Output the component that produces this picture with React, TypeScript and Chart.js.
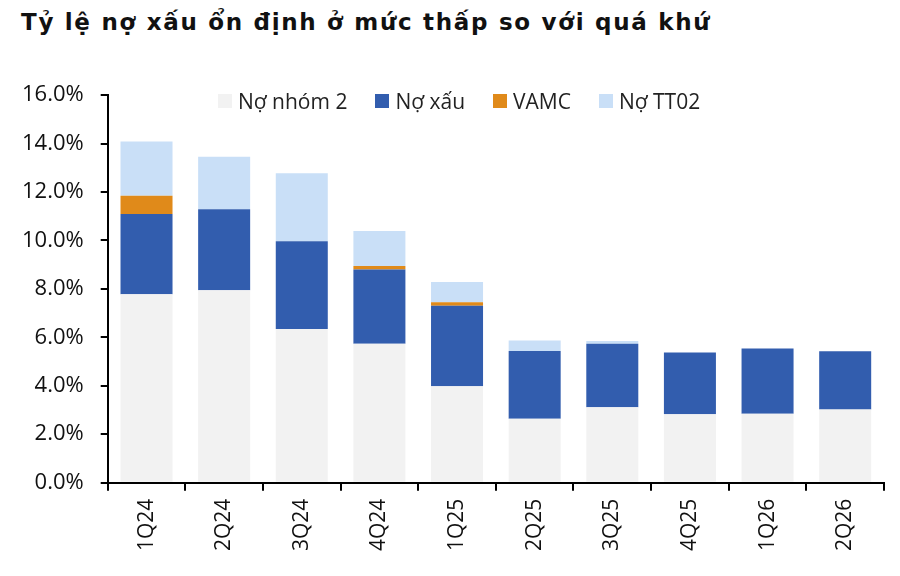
import React, { useEffect, useRef } from "react";
import { Chart, registerables } from "chart.js";

Chart.register(...registerables);

const categories = ["1Q24", "2Q24", "3Q24", "4Q24", "1Q25", "2Q25", "3Q25", "4Q25", "1Q26", "2Q26"];
const noNhom2 = [7.78, 7.95, 6.34, 5.74, 3.98, 2.64, 3.11, 2.82, 2.85, 3.02];
const noXau = [3.31, 3.34, 3.63, 3.06, 3.32, 2.8, 2.63, 2.55, 2.69, 2.41];
const vamc = [0.76, 0, 0, 0.15, 0.15, 0, 0, 0, 0, 0];
const noTT02 = [2.24, 2.17, 2.81, 1.44, 0.84, 0.43, 0.11, 0, 0, 0];
const seriesNames = ["Nợ nhóm 2", "Nợ xấu", "VAMC", "Nợ TT02"];
const seriesColors = ["#f2f2f2", "#325dae", "#e08a1a", "#c9dff7"];
const yTicks = [0, 2, 4, 6, 8, 10, 12, 14, 16];

const FONT = "'Open Sans', 'Noto Sans', sans-serif";

export default function App() {
  const ref = useRef<HTMLCanvasElement | null>(null);

  useEffect(() => {
    document.body.style.margin = "0";
    const ctx = ref.current;
    if (!ctx) return;
    const values = [noNhom2, noXau, vamc, noTT02];
    const chart = new Chart(ctx, {
      type: "bar",
      data: {
        labels: categories,
        datasets: values.map((v, i) => ({
          label: seriesNames[i],
          data: v,
          backgroundColor: seriesColors[i],
          borderWidth: 0,
          barPercentage: 0.67,
          categoryPercentage: 1,
        })),
      },
      options: {
        animation: false,
        responsive: false,
        maintainAspectRatio: false,
        layout: { padding: { left: 5, right: 16, top: 14, bottom: 17 } },
        plugins: { legend: { display: false }, tooltip: { enabled: false } },
        scales: {
          x: {
            stacked: true,
            grid: { display: true, drawOnChartArea: false, offset: true, tickLength: 8, color: "#000", lineWidth: 2 },
            border: { color: "#000", width: 2 },
            ticks: {
              minRotation: 90,
              maxRotation: 90,
              color: "#111",
              padding: 8,
              font: { family: FONT, size: 21 },
            },
          },
          y: {
            stacked: true,
            min: yTicks[0],
            max: yTicks[yTicks.length - 1],
            afterBuildTicks: (axis: any) => {
              axis.ticks = yTicks.map((v) => ({ value: v }));
            },
            grid: { display: true, drawOnChartArea: false, tickLength: 7, color: "#000", lineWidth: 2 },
            border: { color: "#000", width: 2 },
            ticks: {
              color: "#111",
              padding: 17,
              font: { family: FONT, size: 22 },
              callback: (v: any) => Number(v).toFixed(1) + "%",
            },
          },
        },
      },
    });
    return () => chart.destroy();
  }, []);

  return (
    <div style={{ position: "fixed", left: 0, top: 0, width: 900, height: 576, background: "#fff", overflow: "hidden" }}>
      <div
        style={{
          position: "absolute",
          left: 21,
          top: 9,
          fontFamily: "'DejaVu Sans', sans-serif",
          fontWeight: 700,
          fontSize: 23,
          letterSpacing: 1.7,
          color: "#111",
          whiteSpace: "nowrap",
        }}
      >
        Tỷ lệ nợ xấu ổn định ở mức thấp so với quá khứ
      </div>
      <canvas ref={ref} width={900} height={511} style={{ position: "absolute", left: 0, top: 65, width: 900, height: 511 }} />
      <div
        style={{
          position: "absolute",
          left: 218,
          top: 87,
          display: "flex",
          alignItems: "center",
          fontFamily: FONT,
          fontSize: 21,
          color: "#222",
          whiteSpace: "nowrap",
        }}
      >
        {seriesNames.map((n, i) => (
          <div key={n} style={{ display: "flex", alignItems: "center", marginRight: 28 }}>
            <span style={{ display: "inline-block", width: 14, height: 14, background: seriesColors[i], marginRight: 6 }} />
            <span>{n}</span>
          </div>
        ))}
      </div>
    </div>
  );
}
